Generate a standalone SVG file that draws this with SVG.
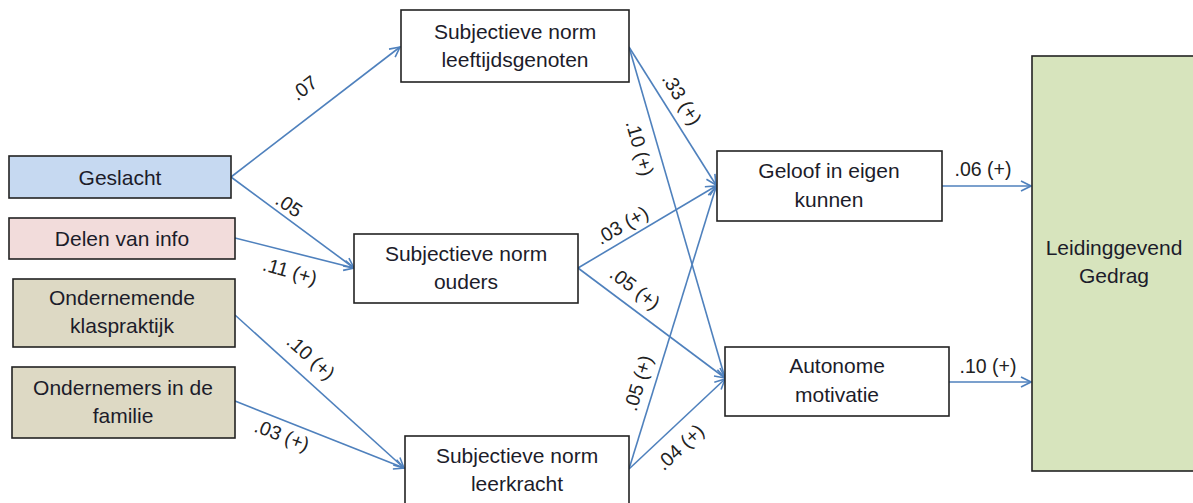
<svg xmlns="http://www.w3.org/2000/svg" width="1193" height="503" viewBox="0 0 1193 503">
  <style>
    .box { stroke: #222; stroke-width: 1.6; }
    .plain { fill: #ffffff; }
    .blue { fill: #c6d9f1; }
    .pink { fill: #f2dcdb; }
    .tan { fill: #ddd9c4; }
    .green { fill: #d7e4bd; }
    .lbl { font-family: "Liberation Sans", Arial, sans-serif; font-size: 21px; fill: #1c1c2a; text-anchor: middle; }
    .coef { font-family: "Liberation Sans", Arial, sans-serif; font-size: 19.5px; fill: #222; text-anchor: middle; }
    .edge { stroke: #4f81bd; stroke-width: 1.6; fill: none; marker-end: url(#arrow); }
  </style>
  <defs>
    <marker id="arrow" viewBox="0 0 12 12" refX="11" refY="6" markerWidth="12" markerHeight="12" markerUnits="userSpaceOnUse" orient="auto">
      <path d="M1,1 L11,6 L1,11" fill="none" stroke="#4f81bd" stroke-width="1.6"/>
    </marker>
  </defs>

  <rect width="1193" height="503" fill="#ffffff"/>

  <!-- connectors -->
  <g id="connectors">
    <line class="edge" x1="231" y1="177" x2="400" y2="47"/>
    <line class="edge" x1="231" y1="177" x2="354" y2="268"/>
    <line class="edge" x1="235" y1="238" x2="354" y2="268"/>
    <line class="edge" x1="235" y1="315" x2="404" y2="468"/>
    <line class="edge" x1="235" y1="401" x2="404" y2="468"/>
    <line class="edge" x1="629" y1="47" x2="716" y2="185"/>
    <line class="edge" x1="629" y1="47" x2="725" y2="378"/>
    <line class="edge" x1="578" y1="268" x2="716" y2="186"/>
    <line class="edge" x1="578" y1="268" x2="725" y2="378"/>
    <line class="edge" x1="629" y1="469" x2="716" y2="187"/>
    <line class="edge" x1="629" y1="469" x2="725" y2="379"/>
    <line class="edge" x1="942" y1="186" x2="1031" y2="186"/>
    <line class="edge" x1="949" y1="382" x2="1031" y2="382"/>

    <text class="coef" transform="translate(304,88) rotate(-37)" dy=".35em">.07</text>
    <text class="coef" transform="translate(289,205) rotate(34)" dy=".35em">.05</text>
    <text class="coef" transform="translate(290,271) rotate(16)" dy=".35em">.11 (+)</text>
    <text class="coef" transform="translate(311,357) rotate(42)" dy=".35em">.10 (+)</text>
    <text class="coef" transform="translate(282,435) rotate(21)" dy=".35em">.03 (+)</text>
    <text class="coef" transform="translate(682,99) rotate(58)" dy=".35em">.33 (+)</text>
    <text class="coef" transform="translate(640,148) rotate(74)" dy=".35em">.10 (+)</text>
    <text class="coef" transform="translate(622,225) rotate(-30)" dy=".35em">.03 (+)</text>
    <text class="coef" transform="translate(635,288) rotate(37)" dy=".35em">.05 (+)</text>
    <text class="coef" transform="translate(638,383) rotate(-73)" dy=".35em">.05 (+)</text>
    <text class="coef" transform="translate(680,447) rotate(-43)" dy=".35em">.04 (+)</text>
    <text class="coef" x="983" y="176">.06 (+)</text>
    <text class="coef" x="988" y="373">.10 (+)</text>
  </g>

  <!-- source variables -->
  <g id="geslacht">
    <rect class="box blue" x="9" y="156" width="222" height="42"/>
    <text class="lbl" x="120" y="185">Geslacht</text>
  </g>
  <g id="delen-van-info">
    <rect class="box pink" x="9" y="218" width="226" height="41"/>
    <text class="lbl" x="122" y="246">Delen van info</text>
  </g>
  <g id="ondernemende-klaspraktijk">
    <rect class="box tan" x="13" y="279" width="222" height="68"/>
    <text class="lbl" x="122" y="305">Ondernemende</text>
    <text class="lbl" x="122" y="333">klaspraktijk</text>
  </g>
  <g id="ondernemers-familie">
    <rect class="box tan" x="12" y="367" width="223" height="71"/>
    <text class="lbl" x="123" y="395">Ondernemers in de</text>
    <text class="lbl" x="123" y="423">familie</text>
  </g>

  <!-- subjective norms -->
  <g id="norm-leeftijdsgenoten">
    <rect class="box plain" x="401" y="10" width="228" height="72"/>
    <text class="lbl" x="515" y="39">Subjectieve norm</text>
    <text class="lbl" x="515" y="67">leeftijdsgenoten</text>
  </g>
  <g id="norm-ouders">
    <rect class="box plain" x="354" y="234" width="224" height="69"/>
    <text class="lbl" x="466" y="261">Subjectieve norm</text>
    <text class="lbl" x="466" y="289">ouders</text>
  </g>
  <g id="norm-leerkracht">
    <rect class="box plain" x="405" y="436" width="224" height="76"/>
    <text class="lbl" x="517" y="463">Subjectieve norm</text>
    <text class="lbl" x="517" y="491">leerkracht</text>
  </g>

  <!-- mediators -->
  <g id="geloof">
    <rect class="box plain" x="717" y="151" width="225" height="70"/>
    <text class="lbl" x="829" y="178">Geloof in eigen</text>
    <text class="lbl" x="829" y="207">kunnen</text>
  </g>
  <g id="autonome-motivatie">
    <rect class="box plain" x="725" y="347" width="224" height="69"/>
    <text class="lbl" x="837" y="373">Autonome</text>
    <text class="lbl" x="837" y="402">motivatie</text>
  </g>

  <!-- outcome -->
  <g id="leidinggevend-gedrag">
    <rect class="box green" x="1032" y="56" width="175" height="415"/>
    <text class="lbl" x="1114" y="255">Leidinggevend</text>
    <text class="lbl" x="1114" y="283">Gedrag</text>
  </g>
</svg>
